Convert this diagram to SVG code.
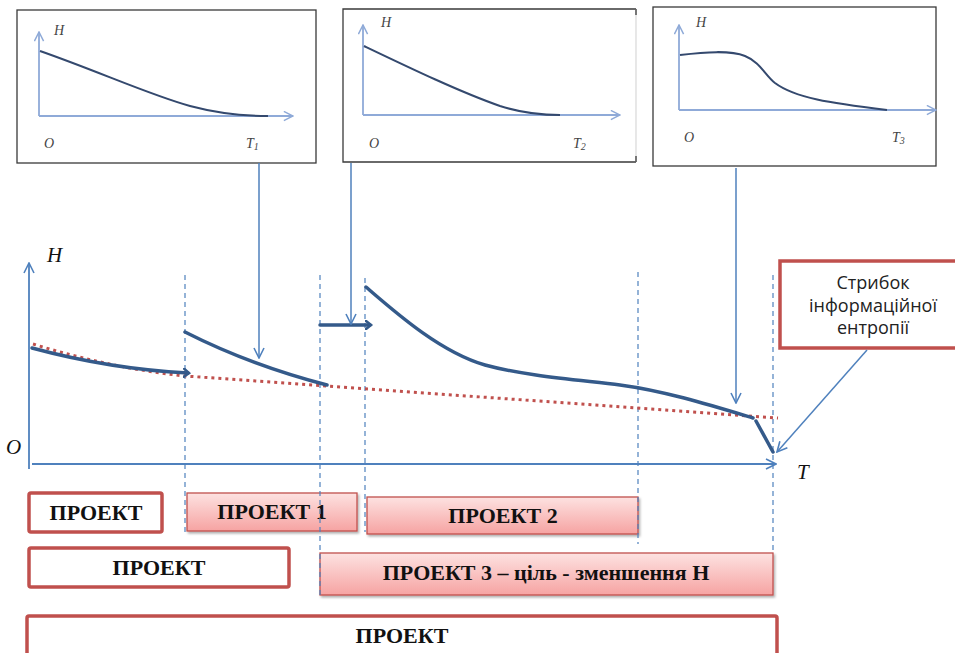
<svg xmlns="http://www.w3.org/2000/svg" width="955" height="653" viewBox="0 0 955 653">
  <defs>
    <style>
      .frame { fill: #ffffff; stroke: #3a3a3a; stroke-width: 1.3; }
      .miniaxis { fill: none; stroke: #8faad8; stroke-width: 1.8; }
      .minicurve { fill: none; stroke: #34496e; stroke-width: 2; }
      .minilbl { font-family: "Liberation Serif", serif; font-style: italic; font-size: 14px; fill: #444; }
      .axis { fill: none; stroke: #4f81bd; stroke-width: 1.8; }
      .guide { fill: none; stroke: #4f81bd; stroke-width: 1.2; stroke-dasharray: 5 4; }
      .curve { fill: none; stroke: #345a8a; stroke-width: 3.5; stroke-linecap: round; }
      .trend { fill: none; stroke: #c0504d; stroke-width: 3; stroke-dasharray: 3 4; }
      .pointer { fill: none; stroke: #4f81bd; stroke-width: 1.5; }
      .big { font-family: "Liberation Serif", serif; font-style: italic; font-size: 21px; fill: #111; }
      .plain { fill: #ffffff; stroke: #c0504d; stroke-width: 3.5; }
      .phase { fill: url(#pink); stroke: #c0504d; stroke-width: 1.3; filter: url(#shade); }
      .lbl { font-family: "Liberation Serif", serif; font-weight: bold; font-size: 22px; fill: #111; text-anchor: middle; }
      .note { font-family: "Open Sans", "Liberation Sans", sans-serif; font-size: 18px; fill: #222; text-anchor: middle; }
    </style>
    <linearGradient id="pink" x1="0" y1="0" x2="0" y2="1">
      <stop offset="0" stop-color="#fde2e1"/>
      <stop offset="1" stop-color="#f6a3a2"/>
    </linearGradient>
    <filter id="shade" x="-5%" y="-20%" width="110%" height="150%">
      <feDropShadow dx="1.5" dy="2" stdDeviation="1.2" flood-color="#000" flood-opacity="0.3"/>
    </filter>
    <marker id="open" viewBox="0 0 12 12" refX="11" refY="6" markerWidth="12" markerHeight="12" markerUnits="userSpaceOnUse" orient="auto">
      <path d="M1,1 L11,6 L1,11" fill="none" stroke="#4f81bd" stroke-width="1.6"/>
    </marker>
    <marker id="openMini" viewBox="0 0 12 12" refX="11" refY="6" markerWidth="11" markerHeight="11" markerUnits="userSpaceOnUse" orient="auto">
      <path d="M1,1 L11,6 L1,11" fill="none" stroke="#8faad8" stroke-width="1.6"/>
    </marker>
    <marker id="hook" viewBox="0 0 10 10" refX="5" refY="5" markerWidth="10" markerHeight="10" markerUnits="userSpaceOnUse" orient="auto">
      <path d="M1,1 L6,5 L1,9" fill="none" stroke="#345a8a" stroke-width="2.6" stroke-linecap="round"/>
    </marker>
  </defs>

  <!-- Entropy sketches for the three stages -->
  <g id="sketch-1">
    <rect class="frame" x="17" y="10" width="299" height="153"/>
    <path class="miniaxis" d="M39,116 V32" marker-end="url(#openMini)"/>
    <path class="miniaxis" d="M39,116 H293" marker-end="url(#openMini)"/>
    <path class="minicurve" d="M40,51 C100,72 150,95 190,106 C220,114 245,116 268,116"/>
    <text class="minilbl" x="54" y="35">H</text>
    <text class="minilbl" x="44" y="148">O</text>
    <text class="minilbl" x="246" y="148">T<tspan font-size="10" dy="2">1</tspan></text>
  </g>

  <g id="sketch-2">
    <path class="frame" d="M636,9 H343 V162 H636" />
    <path d="M636,9 V162" fill="none" stroke="#d8d8d8" stroke-width="1.2"/>
    <path d="M636,9 V15 M636,156 V162" fill="none" stroke="#3a3a3a" stroke-width="1.3"/>
    <path class="miniaxis" d="M363,115 V25" marker-end="url(#openMini)"/>
    <path class="miniaxis" d="M363,115 H620" marker-end="url(#openMini)"/>
    <path class="minicurve" d="M364,46 C410,68 460,92 500,106 C525,114 545,115 560,115"/>
    <text class="minilbl" x="381" y="27">H</text>
    <text class="minilbl" x="369" y="148">O</text>
    <text class="minilbl" x="573" y="148">T<tspan font-size="10" dy="2">2</tspan></text>
  </g>

  <g id="sketch-3">
    <rect class="frame" x="653" y="7" width="283" height="159"/>
    <path class="miniaxis" d="M679,110 V25" marker-end="url(#openMini)"/>
    <path class="miniaxis" d="M679,110 H936" marker-end="url(#openMini)"/>
    <path class="minicurve" d="M680,55 C705,52 730,50 745,56 C760,62 765,75 775,83 C795,98 830,103 887,110"/>
    <text class="minilbl" x="696" y="27">H</text>
    <text class="minilbl" x="684" y="142">O</text>
    <text class="minilbl" x="892" y="142">T<tspan font-size="10" dy="2">3</tspan></text>
  </g>

  <!-- Main time axis and entropy axis -->
  <g id="axes">
    <path class="axis" d="M29,469 V263" marker-end="url(#open)"/>
    <path class="axis" d="M32,464 H776" marker-end="url(#open)"/>
    <text class="big" x="47" y="262">H</text>
    <text class="big" x="6" y="454">O</text>
    <text class="big" x="797" y="479">T</text>
  </g>

  <!-- Project phases -->
  <g id="phase-a">
    <rect class="plain" x="29" y="493" width="133" height="39" rx="2"/>
    <text class="lbl" x="96" y="520">ПРОЕКТ</text>
  </g>
  <g id="phase-1">
    <rect class="phase" x="187" y="493" width="170" height="38"/>
    <text class="lbl" x="272" y="519">ПРОЕКТ 1</text>
  </g>
  <g id="phase-2">
    <rect class="phase" x="367" y="497" width="271" height="37"/>
    <text class="lbl" x="503" y="523">ПРОЕКТ 2</text>
  </g>
  <g id="phase-b">
    <rect class="plain" x="29" y="548" width="260" height="39" rx="2"/>
    <text class="lbl" x="159" y="575">ПРОЕКТ</text>
  </g>
  <g id="phase-3">
    <rect class="phase" x="320" y="553" width="453" height="42"/>
    <text class="lbl" x="546" y="580">ПРОЕКТ 3 – ціль - зменшення Н</text>
  </g>
  <g id="phase-c">
    <rect class="plain" x="27" y="616" width="750" height="40" rx="2"/>
    <text class="lbl" x="402" y="643">ПРОЕКТ</text>
  </g>

  <!-- Callout -->
  <g id="callout">
    <rect class="plain" x="780" y="261" width="180" height="87"/>
    <text class="note" x="873" y="289">Стрибок</text>
    <text class="note" x="873" y="312">інформаційної</text>
    <text class="note" x="873" y="334">ентропії</text>
  </g>

  <!-- Stage boundaries, entropy curves and pointers -->
  <g id="connectors">
    <path class="guide" d="M185,275 V532"/>
    <path class="guide" d="M320,275 V595"/>
    <path class="guide" d="M365,278 V532"/>
    <path class="guide" d="M638,272 V544"/>
    <path class="guide" d="M773,275 V552"/>

    <path class="trend" d="M33,344 Q110,368 185,376 L778,418"/>

    <path class="curve" d="M32,348 Q110,369 188,373" marker-end="url(#hook)"/>
    <path class="curve" d="M185,332 Q250,365 327,385"/>
    <path class="curve" d="M320,325 H370" marker-end="url(#hook)"/>
    <path class="curve" d="M366,287 C395,312 440,352 485,365 C525,376 580,380 620,385 C665,391 710,405 753,418"/>
    <path class="curve" d="M756,421 L773,452"/>

    <path class="pointer" d="M259,163 V358" marker-end="url(#open)"/>
    <path class="pointer" d="M351,163 V324" marker-end="url(#open)"/>
    <path class="pointer" d="M736,168 V403" marker-end="url(#open)"/>
    <path class="pointer" d="M867,350 L777,452" marker-end="url(#open)"/>
  </g>
</svg>
